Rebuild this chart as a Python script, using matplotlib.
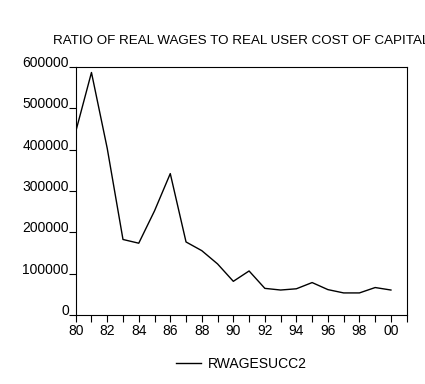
import matplotlib
matplotlib.use("Agg")
import matplotlib.pyplot as plt

years = list(range(1980, 2001))
rwagesucc2 = [443000, 586000, 403000, 183000, 174000, 252000, 342000, 177000,
              156000, 124000, 82000, 107000, 65000, 61000, 64000, 79000,
              62000, 54000, 54000, 67000, 61000]
yticks = [0, 100000, 200000, 300000, 400000, 500000, 600000]
xtick_labels = ["80", "82", "84", "86", "88", "90", "92", "94", "96", "98", "00"]

plt.rcParams['font.family'] = ['Liberation Sans', 'DejaVu Sans']

fig = plt.figure(figsize=(4.25, 3.84), dpi=100)
ax = fig.add_axes([75.7 / 425, 1 - 315.3 / 384, (406.7 - 75.7) / 425, (315.3 - 66.7) / 384])

ax.plot(years, rwagesucc2, color="black", linewidth=1.0, label="RWAGESUCC2")

ax.set_xlim(1980, 2001)
ax.set_ylim(0, 600000)
ax.set_yticks(yticks)
ax.set_yticklabels([str(v) for v in yticks], fontsize=10)
for lbl in ax.get_yticklabels():
    lbl.set_va("baseline")
ax.set_xticks(years[::2])
ax.set_xticklabels(xtick_labels, fontsize=10)
ax.set_xticks(list(range(1981, 2002, 2)), minor=True)
ax.tick_params(axis="both", which="both", direction="out", length=5, width=0.8)
ax.tick_params(axis="y", pad=0)
ax.tick_params(axis="x", which="major", pad=1)
for s in ax.spines.values():
    s.set_linewidth(0.8)

# the title runs off the right edge in the original too
fig.text(53 / 425, 1 - 41 / 384, "RATIO OF REAL WAGES TO REAL USER COST OF CAPITAL",
         fontsize=9.6, ha="left", va="center")

fig.legend(loc="center", bbox_to_anchor=(241 / 425, 1 - 364 / 384), frameon=False,
           fontsize=10, handlelength=1.8, handletextpad=0.5)

fig.savefig("out.png", dpi=100)
